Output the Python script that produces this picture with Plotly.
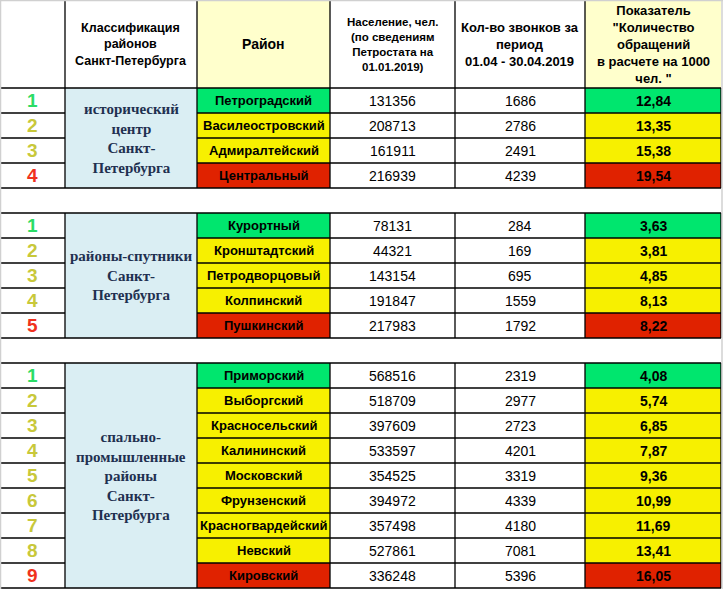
import plotly.graph_objects as go

# ---- data ----
header_texts = [
    "",
    "Классификация<br>районов<br>Санкт-Петербурга",
    "Район",
    "Население, чел.<br>(по сведениям<br>Петростата на<br>01.01.2019)",
    "Кол-во звонков за<br>период<br>01.04 - 30.04.2019",
    "Показатель<br>\"Количество<br>обращений<br>в расчете на 1000<br>чел. \"",
]

groups = [
    "исторический<br>центр<br>Санкт-<br>Петербурга",
    "районы-спутники<br>Санкт-<br>Петербурга",
    "спально-<br>промышленные<br>районы<br>Санкт-<br>Петербурга",
]
group_sizes = [4, 5, 9]

districts = [
    "Петроградский", "Василеостровский", "Адмиралтейский", "Центральный",
    "Курортный", "Кронштадтский", "Петродворцовый", "Колпинский", "Пушкинский",
    "Приморский", "Выборгский", "Красносельский", "Калининский", "Московский",
    "Фрунзенский", "Красногвардейский", "Невский", "Кировский",
]
population = [
    131356, 208713, 161911, 216939,
    78131, 44321, 143154, 191847, 217983,
    568516, 518709, 397609, 533597, 354525, 394972, 357498, 527861, 336248,
]
calls = [
    1686, 2786, 2491, 4239,
    284, 169, 695, 1559, 1792,
    2319, 2977, 2723, 4201, 3319, 4339, 4180, 7081, 5396,
]
ratio = [
    12.84, 13.35, 15.38, 19.54,
    3.63, 3.81, 4.85, 8.13, 8.22,
    4.08, 5.74, 6.85, 7.87, 9.36, 10.99, 11.69, 13.41, 16.05,
]

# ---- layout constants ----
W, H = 723, 589
col_edges = [0, 65, 197, 330, 455, 585, 721]
header_h = 88
row_h = 25

cell_green, cell_yellow, cell_red = "#00E66E", "#F7F000", "#E02200"
rank_green, rank_yellow, rank_red = "#2BDC66", "#C8C83A", "#F0321E"
header_yellow = "#FFFFCC"
group_blue = "#DAEEF3"
line = dict(color="black", width=1.3)
sans = "Liberation Sans, Arial, sans-serif"
serif = "Liberation Serif, Times New Roman, serif"

shapes, annotations = [], []


def cx(c):
    return (col_edges[c] + col_edges[c + 1]) / 2


def rect(x0, x1, y0, y1, fill):
    shapes.append(dict(type="rect", x0=x0, x1=x1, y0=y0, y1=y1,
                       fillcolor=fill, line_width=0, layer="below"))


def hline(x0, x1, y):
    shapes.append(dict(type="line", x0=x0, x1=x1, y0=y, y1=y, line=line))


def vline(x, y0, y1):
    shapes.append(dict(type="line", x0=x, x1=x, y0=y0, y1=y1, line=line))


def text(x, y, s, size, color="black", bold=True, family=sans):
    annotations.append(dict(
        x=x, y=y, text=f"<b>{s}</b>" if bold else s, showarrow=False,
        xanchor="center", yanchor="middle",
        font=dict(size=size, color=color, family=family)))


# header
rect(col_edges[2], col_edges[3], 0, header_h, header_yellow)
rect(col_edges[5], col_edges[6], 0, header_h, header_yellow)
header_sizes = [12, 12.5, 14, 11.5, 13, 13]
for c, s in enumerate(header_texts):
    if s:
        text(cx(c), header_h / 2, s, header_sizes[c])
for x in col_edges[1:-1]:
    vline(x, 0, header_h)

# sections
top = header_h
i = 0
for g, n in enumerate(group_sizes):
    if g > 0:
        top += row_h  # blank spacer row
    bottom = top + n * row_h
    hline(col_edges[0], col_edges[-1], top)
    hline(col_edges[0], col_edges[-1], bottom)
    rect(col_edges[1], col_edges[2], top, bottom, group_blue)
    text(cx(1), (top + bottom) / 2, groups[g], 15, color="#1F3050", family=serif)
    for x in col_edges[1:]:
        vline(x, top, bottom)
    for k in range(n):
        y0 = top + k * row_h
        y1 = y0 + row_h
        if k == 0:
            fill, rc = cell_green, rank_green
        elif k == n - 1:
            fill, rc = cell_red, rank_red
        else:
            fill, rc = cell_yellow, rank_yellow
        rect(col_edges[2], col_edges[3], y0, y1, fill)
        rect(col_edges[5], col_edges[6], y0, y1, fill)
        if k < n - 1:
            hline(col_edges[0], col_edges[1], y1)
            hline(col_edges[2], col_edges[6], y1)
        ym = (y0 + y1) / 2
        text(cx(0), ym, str(k + 1), 19, color=rc)
        text(cx(2), ym, districts[i], 13)
        text(cx(3), ym, str(population[i]), 14, bold=False)
        text(cx(4), ym, str(calls[i]), 14, bold=False)
        text(cx(5), ym, f"{ratio[i]:.2f}".replace(".", ","), 14)
        i += 1
    top = bottom

# light window frame
frame = dict(color="#D0D0D0", width=1.5)
shapes.append(dict(type="line", x0=0.5, x1=0.5, y0=0, y1=H, line=frame))
shapes.append(dict(type="line", x0=0, x1=W, y0=0.5, y1=0.5, line=frame))
shapes.append(dict(type="line", x0=W - 1, x1=W - 1, y0=0, y1=H, line=frame))

fig = go.Figure()
fig.update_layout(
    width=W, height=H,
    margin=dict(l=0, r=0, t=0, b=0),
    paper_bgcolor="white", plot_bgcolor="white",
    xaxis=dict(range=[0, W], visible=False, fixedrange=True),
    yaxis=dict(range=[H, 0], visible=False, fixedrange=True),
    shapes=shapes, annotations=annotations,
    showlegend=False,
)
fig.write_html(
    "out.html",
    config={"displayModeBar": False},
    post_script="document.body.style.margin='0';document.body.style.overflow='hidden';",
)
